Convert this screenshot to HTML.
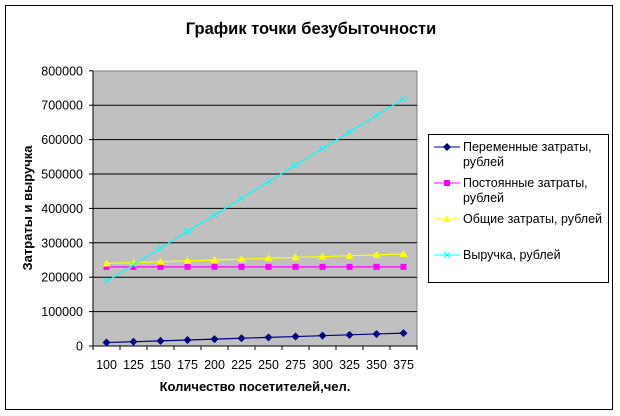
<!DOCTYPE html>
<html><head><meta charset="utf-8"><style>
body{margin:0;background:#fff}
svg{display:block;font-family:"Liberation Sans",Arial,sans-serif}
</style></head><body>
<svg id="s" width="620" height="416" xmlns="http://www.w3.org/2000/svg">
<rect x="0" y="0" width="620" height="416" fill="#fff"/>
<rect x="5.5" y="5.5" width="607" height="404" fill="#fff" stroke="#000" stroke-width="1"/>
<text x="311" y="34" text-anchor="middle" font-size="16.5" font-weight="bold">График точки безубыточности</text>
<rect x="93" y="71" width="324" height="275" fill="#c0c0c0" stroke="#808080"/>
<g id="grid"></g>
<g id="series"></g>
<text transform="translate(32,208) rotate(-90)" text-anchor="middle" font-size="13" font-weight="bold">Затраты и выручка</text>
<text x="255" y="391" text-anchor="middle" font-size="13" font-weight="bold">Количество посетителей,чел.</text>
<rect x="428.5" y="134.5" width="180" height="148" fill="#fff" stroke="#000"/>
<g font-size="12.5">
<line x1="434" y1="147" x2="460" y2="147" stroke="#000080"/><path d="M447 143 L451 147 L447 151 L443 147Z" fill="#000080"/>
<text x="463" y="151">Переменные затраты,</text><text x="463" y="166">рублей</text>
<line x1="434" y1="183" x2="460" y2="183" stroke="#ff00ff"/><rect x="444" y="180" width="6" height="6" fill="#ff00ff"/>
<text x="463" y="187">Постоянные затраты,</text><text x="463" y="202">рублей</text>
<line x1="434" y1="219" x2="460" y2="219" stroke="#ffff00"/><path d="M447 215 L451 222 L443 222Z" fill="#ffff00"/>
<text x="463" y="223">Общие затраты, рублей</text>
<line x1="434" y1="255" x2="460" y2="255" stroke="#00ffff"/><path d="M444 252 L450 258 M450 252 L444 258" stroke="#00ffff"/>
<text x="463" y="259">Выручка, рублей</text>
</g>
</svg>
<script>
var NS="http://www.w3.org/2000/svg",g=document.getElementById('grid'),s=document.getElementById('series');
function el(p,t,a,txt){var e=document.createElementNS(NS,t);for(var k in a)e.setAttribute(k,a[k]);if(txt!=null)e.textContent=txt;p.appendChild(e);return e;}
function Y(v){return 346-v*0.000344;}
for(var i=0;i<=8;i++){var y=Y(i*100000);
 if(i>0&&i<8)el(g,'line',{x1:93,x2:417,y1:y,y2:y,stroke:'#000'});
 el(g,'line',{x1:89,x2:93,y1:y,y2:y,stroke:'#000'});
 el(g,'text',{x:83,y:y+4.5,'text-anchor':'end','font-size':12.5},String(i*100000));}
el(g,'line',{x1:93,x2:93,y1:71,y2:346,stroke:'#000'});
el(g,'line',{x1:93,x2:417,y1:346,y2:346,stroke:'#000'});
for(var i=0;i<=12;i++){var x=93+27*i;el(g,'line',{x1:x,x2:x,y1:346,y2:350,stroke:'#000'});}
var xs=[];for(var i=0;i<12;i++){xs.push(106.5+27*i);el(g,'text',{x:106.5+27*i,y:369,'text-anchor':'middle','font-size':12.5},String(100+25*i));}
var ser=[
 {c:'#000080',f:function(n){return 100*n},m:'d'},
 {c:'#ff00ff',f:function(n){return 230000},m:'s'},
 {c:'#ffff00',f:function(n){return 230000+100*n},m:'t'},
 {c:'#00ffff',f:function(n){return 1930*n-5000},m:'x'}];
ser.forEach(function(o){var pts=[];for(var i=0;i<12;i++)pts.push(xs[i]+','+Y(o.f(100+25*i)));
 el(s,'polyline',{points:pts.join(' '),fill:'none',stroke:o.c,'stroke-width':1.2});
 for(var i=0;i<12;i++){var x=xs[i],y=Y(o.f(100+25*i));
  if(o.m=='d')el(s,'path',{d:'M'+x+' '+(y-4)+'L'+(x+4)+' '+y+'L'+x+' '+(y+4)+'L'+(x-4)+' '+y+'Z',fill:o.c});
  else if(o.m=='s')el(s,'rect',{x:x-3,y:y-3,width:6,height:6,fill:o.c});
  else if(o.m=='t')el(s,'path',{d:'M'+x+' '+(y-4)+'L'+(x+4)+' '+(y+3)+'L'+(x-4)+' '+(y+3)+'Z',fill:o.c});
  else el(s,'path',{d:'M'+(x-3)+' '+(y-3)+'L'+(x+3)+' '+(y+3)+'M'+(x+3)+' '+(y-3)+'L'+(x-3)+' '+(y+3),stroke:o.c});
 }});
</script>
</body></html>
